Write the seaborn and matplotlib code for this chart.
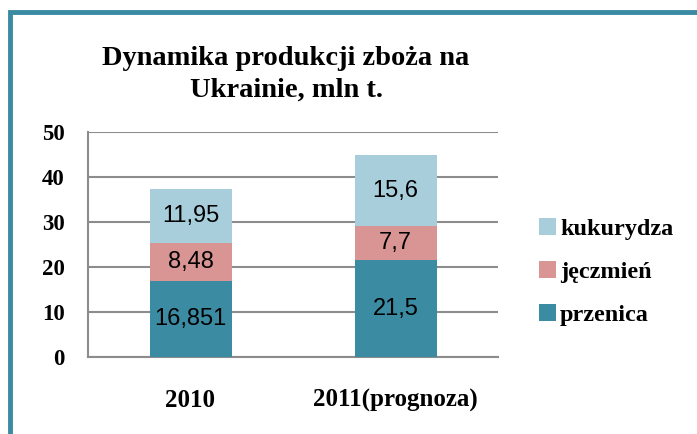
import pandas as pd
import seaborn as sns
import matplotlib.pyplot as plt
from matplotlib.patches import Rectangle

# data
years = ['2010', '2011(prognoza)']
przenica = [16.851, 21.5]
jeczmien = [8.48, 7.7]
kukurydza = [11.95, 15.6]

series_names = ['przenica', 'jęczmień', 'kukurydza']
colors = ['#3B8BA3', '#D99594', '#A8CEDC']
frame_color = '#3A8AA2'
grid_color = '#8C8C8C'

serif = ['Liberation Serif', 'DejaVu Serif']
sans = ['Liberation Sans', 'DejaVu Sans']

sns.set_style('white')
plt.rcParams['font.family'] = serif
plt.rcParams['text.color'] = 'black'
plt.rcParams['xtick.labelcolor'] = 'black'
plt.rcParams['ytick.labelcolor'] = 'black'

df = pd.DataFrame({'year': years, 'przenica': przenica,
                   'jęczmień': jeczmien, 'kukurydza': kukurydza})
# cumulative tops for the stacked look (drawn tallest first)
df['top1'] = df['przenica']
df['top2'] = df['top1'] + df['jęczmień']
df['top3'] = df['top2'] + df['kukurydza']

fig = plt.figure(figsize=(6.97, 4.34), dpi=100)
ax = fig.add_axes([88 / 697, 77 / 434, 410 / 697, 225 / 434])

for col, name, c in zip(['top3', 'top2', 'top1'], series_names[::-1], colors[::-1]):
    sns.barplot(data=df, x='year', y=col, color=c, width=0.4, label=name,
                saturation=1, ax=ax, zorder=3, edgecolor='none', linewidth=0)

# data labels in the middle of each segment
for i in range(len(years)):
    bottoms = [0, df['top1'][i], df['top2'][i]]
    vals = [przenica[i], jeczmien[i], kukurydza[i]]
    for b, v in zip(bottoms, vals):
        ax.text(i, b + v / 2, str(v).replace('.', ','), ha='center', va='center',
                fontsize=17, family=sans, color='black', zorder=5)

ax.set_ylim(0, 50)
ax.set_xlim(-0.5, 1.5)
ax.set_yticks(range(0, 51, 10))
ax.yaxis.grid(True, color=grid_color, linewidth=1.5, zorder=0)
ax.set_axisbelow(True)
ax.set_xlabel('')
ax.set_ylabel('')

for s in ['top', 'right']:
    ax.spines[s].set_visible(False)
for s in ['left', 'bottom']:
    ax.spines[s].set_color(grid_color)
    ax.spines[s].set_linewidth(1.5)

# category separators on the x axis
ax.set_xticks([-0.5, 0.5, 1.5], minor=True)
ax.tick_params(axis='x', which='minor', length=6, width=1.5, color=grid_color, direction='out')
ax.tick_params(axis='x', which='major', length=0, pad=23)
ax.tick_params(axis='y', length=6, width=1.5, color=grid_color, pad=11)
for lab in ax.get_yticklabels():
    lab.set_fontweight('bold')
    lab.set_fontsize(16.5)
    lab.set_color('black')
for lab in ax.get_xticklabels():
    lab.set_fontweight('bold')
    lab.set_fontsize(18)
    lab.set_color('black')

handles, labels = ax.get_legend_handles_labels()
if ax.legend_ is not None:
    ax.legend_.remove()
leg = fig.legend(handles, labels, loc='center left', bbox_to_anchor=(517 / 697, 1 - 272 / 434),
                 frameon=False, prop={'family': serif, 'weight': 'bold', 'size': 17.5},
                 handlelength=0.72, handleheight=0.72, handletextpad=0.15, labelspacing=0.85)

fig.text(286 / 697, 1 - 74 / 434, 'Dynamika produkcji zboża na\nUkrainie, mln t.',
         ha='center', va='center', fontsize=20.5, fontweight='bold', family=serif,
         linespacing=1.35, color='black')

# teal frame around the chart (runs off the right and bottom edges)
fig.patches.append(Rectangle((10 / 697, -0.1), 1.2, 1.1 - 12.5 / 434, transform=fig.transFigure,
                             fill=False, edgecolor=frame_color, linewidth=3.5))

fig.savefig('out.png', dpi=100)
plt.close(fig)
